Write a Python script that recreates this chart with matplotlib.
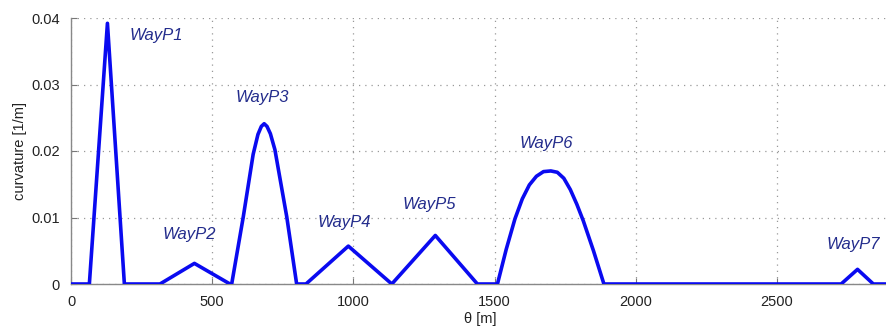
import matplotlib
matplotlib.use("Agg")
import matplotlib.pyplot as plt

plt.rcParams['font.family'] = ['Liberation Sans', 'DejaVu Sans']

# curvature profile
theta = [0, 65, 129, 189, 315, 437, 563, 569, 610, 645, 662, 674, 684, 694,
         706, 722, 764, 799, 832, 982, 1136, 1290, 1439, 1510, 1541, 1572,
         1598, 1623, 1648, 1673, 1699, 1722, 1745, 1768, 1791, 1814, 1850,
         1887, 2727, 2785, 2841, 2900]
curv = [0, 0, 0.0392, 0, 0, 0.0031, 0, 0, 0.0101, 0.0195, 0.0225, 0.0237,
        0.0241, 0.0237, 0.0226, 0.0202, 0.0101, 0, 0, 0.0057, 0, 0.0073, 0,
        0, 0.0052, 0.0098, 0.0128, 0.0149, 0.0162, 0.0169, 0.0170, 0.0168,
        0.0159, 0.0142, 0.0120, 0.0095, 0.0050, 0, 0, 0.0022, 0, 0]

labels = ["WayP1", "WayP2", "WayP3", "WayP4", "WayP5", "WayP6", "WayP7"]
label_x = [209, 323, 581, 872, 1175, 1590, 2676]
label_y = [0.0373, 0.0074, 0.0281, 0.0092, 0.0120, 0.0212, 0.0059]

xticks = [0, 500, 1000, 1500, 2000, 2500]
yticks = [0, 0.01, 0.02, 0.03, 0.04]
ytick_labels = ["0", "0.01", "0.02", "0.03", "0.04"]

fig = plt.figure(figsize=(8.86, 3.31), dpi=100)
ax = fig.add_axes([71/886, 1-284/331, (890-71)/886, (284-18)/331])

ax.plot(theta, curv, color='#0a0af0', lw=2.6, solid_joinstyle='round', zorder=3)
for t, x, y in zip(labels, label_x, label_y):
    ax.text(x, y, t, fontsize=12, style='italic', color='#232c8c', va='center', ha='left')

ax.set_xlim(0, 2900)
ax.set_ylim(0, 0.04)
ax.set_xticks(xticks)
ax.set_xticklabels([str(v) for v in xticks])
ax.set_yticks(yticks)
ax.set_yticklabels(ytick_labels)
ax.tick_params(direction='in', length=4, color='#777777', labelsize=10.5,
               labelcolor='#222222', pad=8)
ax.grid(True, linestyle=(0, (1, 4)), color='#999999', lw=0.9)
for s in ['top', 'right']:
    ax.spines[s].set_visible(False)
for s in ['left', 'bottom']:
    ax.spines[s].set_color('#888888')
    ax.spines[s].set_linewidth(1.0)

ax.set_xlabel('θ [m]', fontsize=10.5, color='#222222', labelpad=2)
ax.set_ylabel('curvature [1/m]', fontsize=10.5, color='#222222', labelpad=3)

fig.savefig('out.png', dpi=100)
